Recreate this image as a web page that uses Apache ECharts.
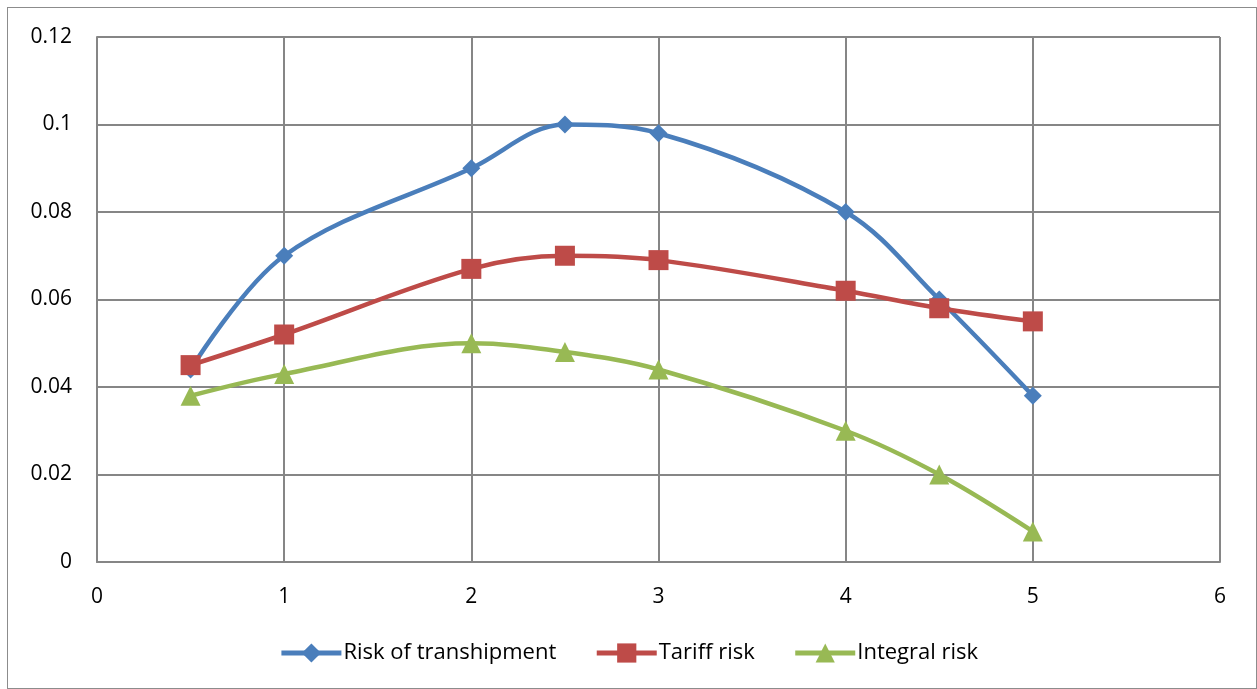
<!DOCTYPE html>
<html>
<head>
<meta charset="utf-8">
<script src="https://cdn.jsdelivr.net/npm/echarts@6/dist/echarts.min.js"></script>
<style>
  html, body { margin: 0; padding: 0; background: #fff; }
  #box { position: absolute; left: 7px; top: 7px; width: 1250px; height: 682px; border: 1px solid #8c8c8c; box-sizing: border-box; }
  #main { width: 1257px; height: 689px; }
</style>
</head>
<body>
<div id="box"></div>
<div id="main"></div>
<script>
// data
var xValues = [0.5, 1, 2, 2.5, 3, 4, 4.5, 5];
var transhipment = [0.044, 0.070, 0.090, 0.100, 0.098, 0.080, 0.060, 0.038];
var tariff = [0.045, 0.052, 0.067, 0.070, 0.069, 0.062, 0.058, 0.055];
var integral = [0.038, 0.043, 0.050, 0.048, 0.044, 0.030, 0.020, 0.007];
var names = ['Risk of transhipment', 'Tariff risk', 'Integral risk'];

function pairs(ys) {
  return xValues.map(function (x, i) { return [x, ys[i]]; });
}

var chart = echarts.init(document.getElementById('main'));

var font = 'Open Sans, Liberation Sans, sans-serif';

function line(name, ys, color, symbol, size) {
  return {
    name: name,
    type: 'line',
    data: pairs(ys),
    smooth: 0.35,
    symbol: symbol,
    symbolSize: size,
    lineStyle: { color: color, width: 4.5 },
    itemStyle: { color: color },
    emphasis: { disabled: true }
  };
}

var option = {
  animation: false,
  grid: { left: 97, right: 37, top: 37, bottom: 127 },
  legend: {
    bottom: 20,
    left: 'center',
    itemWidth: 60,
    itemHeight: 24,
    itemGap: 38,
    textStyle: { fontFamily: font, fontSize: 22, color: '#000', padding: [0, 0, 0, -3] },
    lineStyle: { width: 5 },
    data: names
  },
  xAxis: {
    type: 'value',
    min: 0,
    max: 6,
    interval: 1,
    axisLine: { show: true, lineStyle: { color: '#868686', width: 2 } },
    axisTick: { show: false },
    splitLine: { show: true, lineStyle: { color: '#868686', width: 2 } },
    axisLabel: { fontFamily: font, fontSize: 21, color: '#000', margin: 25 }
  },
  yAxis: {
    type: 'value',
    min: 0,
    max: 0.12,
    interval: 0.02,
    axisLine: { show: true, lineStyle: { color: '#868686', width: 2 } },
    axisTick: { show: false },
    splitLine: { show: true, lineStyle: { color: '#868686', width: 2 } },
    axisLabel: {
      fontFamily: font, fontSize: 21, color: '#000', margin: 25,
      formatter: function (v) { return String(+v.toFixed(2)); }
    }
  },
  series: [
    line(names[0], transhipment, '#4a7ebb', 'diamond', 18),
    line(names[1], tariff, '#be4b48', 'rect', 20),
    line(names[2], integral, '#98b954', 'triangle', 20)
  ]
};

chart.setOption(option);
</script>
</body>
</html>
